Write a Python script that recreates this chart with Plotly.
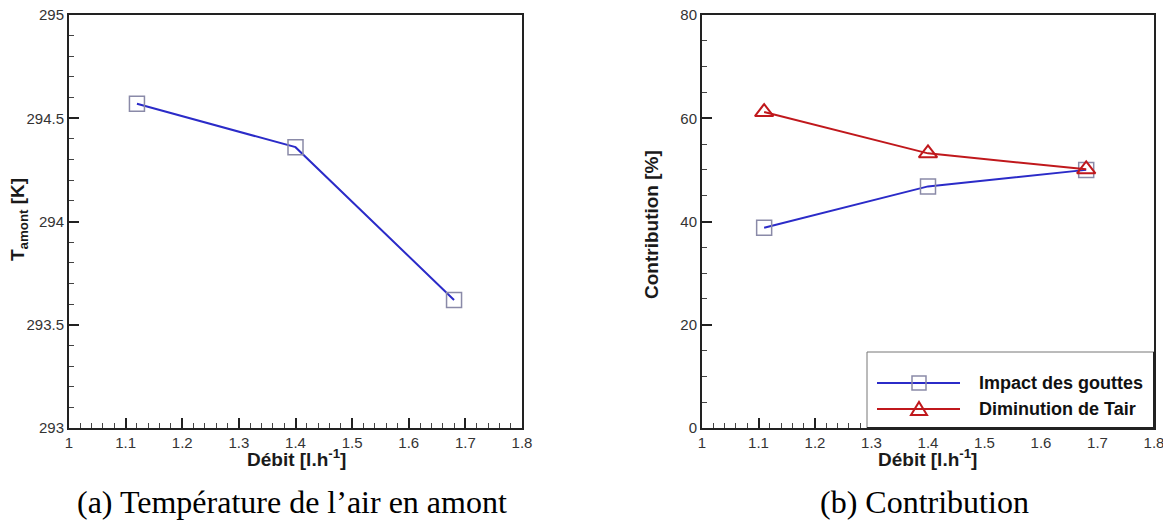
import plotly.graph_objects as go

# Page is 1171x525; the html body adds an 8px margin, so the figure is 8px smaller
OFF = 8
W, H = 1171 - OFF, 525 - OFF

# Data
debit_a = [1.12, 1.40, 1.68]
t_amont = [294.57, 294.36, 293.62]

debit_b = [1.11, 1.40, 1.68]
impact_gouttes = [38.8, 46.8, 50.0]
diminution_tair = [61.2, 53.2, 50.1]

x_ticks = [1, 1.1, 1.2, 1.3, 1.4, 1.5, 1.6, 1.7, 1.8]
y_ticks_a = [293, 293.5, 294, 294.5, 295]
y_ticks_b = [0, 20, 40, 60, 80]

series_names = ["Impact des gouttes", "Diminution de Tair"]
captions = ["(a) Température de l\u2019air en amont", "(b) Contribution"]

BLUE = "#2b2bc8"
RED = "#c0181c"
SQ = "#8a8aa8"


def px(x):
    return (x - OFF) / W


def py(y):
    return 1 - (y - OFF) / H


fig = go.Figure()

fig.add_trace(go.Scatter(
    x=debit_a, y=t_amont, mode="lines+markers",
    line=dict(color=BLUE, width=2),
    marker=dict(symbol="square-open", size=15, color=SQ, line=dict(width=1.5)),
    xaxis="x", yaxis="y", showlegend=False))

fig.add_trace(go.Scatter(
    x=debit_b, y=impact_gouttes, mode="lines+markers", name=series_names[0],
    line=dict(color=BLUE, width=2),
    marker=dict(symbol="square-open", size=15, color=SQ, line=dict(width=1.5)),
    xaxis="x2", yaxis="y2", showlegend=False))

fig.add_trace(go.Scatter(
    x=debit_b, y=diminution_tair, mode="lines+markers", name=series_names[1],
    line=dict(color=RED, width=2),
    marker=dict(symbol="triangle-up-open", size=16, color=RED, line=dict(width=2)),
    xaxis="x2", yaxis="y2", showlegend=False))

tickfont = dict(family="Arial, Liberation Sans", size=15, color="#333333")
common = dict(
    showgrid=False, zeroline=False, showline=True, linecolor="#222222",
    linewidth=2, mirror=True, ticks="inside", ticklen=10, tickwidth=2,
    tickcolor="#222222", tickfont=tickfont, ticklabeloverflow="allow",
)
xminor = dict(dtick=0.02, ticklen=5, tickwidth=1, tickcolor="#444444", ticks="inside")

ydom = [py(428), py(15)]

fig.update_layout(
    width=W, height=H,
    margin=dict(l=0, r=0, t=0, b=0, autoexpand=False),
    paper_bgcolor="white", plot_bgcolor="white",
    xaxis=dict(domain=[px(69), px(522)], range=[1, 1.8], tickvals=x_ticks,
               ticktext=[str(v) for v in x_ticks], minor=xminor,
               anchor="y", **common),
    yaxis=dict(domain=ydom, range=[293, 295], tickvals=y_ticks_a,
               ticktext=[str(v) for v in y_ticks_a],
               minor=dict(dtick=0.1, ticklen=5, tickwidth=1, tickcolor="#444444", ticks="inside"),
               anchor="x", **common),
    xaxis2=dict(domain=[px(702), px(1154)], range=[1, 1.8], tickvals=x_ticks,
                ticktext=[str(v) for v in x_ticks], minor=xminor,
                anchor="y2", **common),
    yaxis2=dict(domain=ydom, range=[0, 80], tickvals=y_ticks_b,
                ticktext=[str(v) for v in y_ticks_b],
                minor=dict(dtick=5, ticklen=5, tickwidth=1, tickcolor="#444444", ticks="inside"),
                anchor="x2", **common),
)

titlefont = dict(family="Arial, Liberation Sans", size=19, color="#1a1a1a")
ann = []


def add_text(x, y, text, font, angle=0, xanchor="center"):
    ann.append(dict(x=px(x), y=py(y), xref="paper", yref="paper", text=text,
                    showarrow=False, font=font, textangle=angle,
                    xanchor=xanchor, yanchor="middle"))


add_text(296, 458, "<b>Débit [l.h<sup>-1</sup>]</b>", titlefont)
add_text(928, 458, "<b>Débit [l.h<sup>-1</sup>]</b>", titlefont)
add_text(19, 220, "<b>T<sub>amont</sub> [K]</b>", titlefont, angle=-90)
add_text(652, 225, "<b>Contribution [%]</b>", titlefont, angle=-90)
capfont = dict(family="Liberation Serif, Times New Roman, serif", size=32, color="black")
add_text(292, 502, captions[0], capfont)
add_text(924, 502, captions[1], capfont)

# Legend (drawn as a boxed key in the lower right of panel b)
legfont = dict(family="Arial, Liberation Sans", size=18, color="#111111")
shapes = []
shapes.append(dict(type="rect", xref="paper", yref="paper",
                   x0=px(867), x1=px(1154), y0=py(428), y1=py(352),
                   line=dict(color="#777777", width=1), fillcolor="white", layer="above"))
for i, (yy, col) in enumerate([(383, BLUE), (409, RED)]):
    shapes.append(dict(type="line", xref="paper", yref="paper",
                       x0=px(877), x1=px(960), y0=py(yy), y1=py(yy),
                       line=dict(color=col, width=2), layer="above"))
    add_text(977, yy, "<b>" + series_names[i] + "</b>", legfont, xanchor="left")
shapes.append(dict(type="rect", xref="paper", yref="paper",
                   x0=px(912), x1=px(926), y0=py(390), y1=py(376),
                   line=dict(color=SQ, width=1.5), fillcolor="rgba(0,0,0,0)", layer="above"))
tri = "M {},{} L {},{} L {},{} Z".format(px(911), py(415), px(927), py(415), px(919), py(402))
shapes.append(dict(type="path", xref="paper", yref="paper", path=tri,
                   line=dict(color=RED, width=2), layer="above"))
# redraw the plot border over the key
shapes.append(dict(type="line", xref="paper", yref="paper",
                   x0=px(867), x1=px(1154), y0=py(428), y1=py(428),
                   line=dict(color="#222222", width=2), layer="above"))
shapes.append(dict(type="line", xref="paper", yref="paper",
                   x0=px(1154), x1=px(1154), y0=py(428), y1=py(352),
                   line=dict(color="#222222", width=2), layer="above"))

fig.update_layout(annotations=ann, shapes=shapes)

fig.write_html("out.html")
